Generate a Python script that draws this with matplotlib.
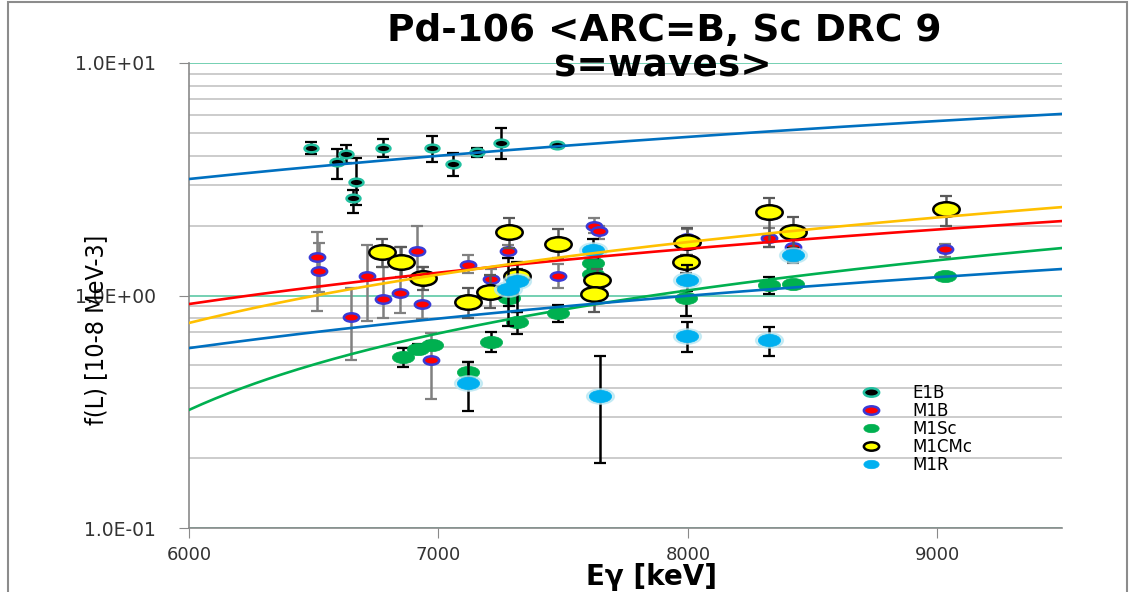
import numpy as np
import matplotlib
matplotlib.use("Agg")
import matplotlib.pyplot as plt
from matplotlib.path import Path
from matplotlib.transforms import Affine2D
from matplotlib.patches import Rectangle
from matplotlib.lines import Line2D
from matplotlib.ticker import FixedLocator, FuncFormatter

# Pd-106 photon strengths: E-gamma in keV, f(L) in 10^-8 MeV^-3
e1b_x = [6489, 6593, 6629, 6669, 6657, 6778, 6974, 7058, 7154, 7250, 7475]
e1b_y = [4.31, 3.75, 4.06, 3.08, 2.62, 4.31, 4.31, 3.68, 4.14, 4.53, 4.44]
e1b_hi = [4.57, 4.26, 4.44, 3.90, 2.84, 4.71, 4.85, 4.10, 4.31, 5.25, 4.53]
e1b_lo = [4.06, 3.17, 3.72, 2.45, 2.26, 3.95, 3.75, 3.27, 3.95, 3.86, 4.36]

m1b_x = [6513, 6521, 6649, 6713, 6778, 6846, 6914, 6934, 6970, 7118,
         7210, 7279, 7479, 7623, 7643, 7996, 8325, 8421, 9030]
m1b_y = [1.46, 1.27, 0.81, 1.21, 0.966, 1.03, 1.55, 0.919, 0.528, 1.35,
         1.18, 1.55, 1.21, 1.99, 1.89, 1.77, 1.77, 1.62, 1.58]
m1b_hi = [1.87, 1.68, 1.08, 1.65, 1.33, 1.61, 1.99, 1.32, 0.69, 1.49,
          1.30, 1.65, 1.36, 2.15, 2.00, 1.93, 1.95, 1.73, 1.67]
m1b_lo = [0.86, 1.04, 0.53, 0.78, 0.80, 0.84, 1.23, 0.79, 0.36, 1.25,
          1.08, 1.45, 1.08, 1.85, 1.75, 1.62, 1.62, 1.38, 1.46]

m1sc_x = [6858, 6918, 6976, 7118, 7210, 7283, 7315, 7479, 7619, 7619,
          7992, 8325, 8421, 9030]
m1sc_y = [0.544, 0.589, 0.612, 0.469, 0.631, 0.975, 0.769, 0.841, 1.38, 1.24,
          0.975, 1.11, 1.12, 1.21]
m1sc_hi = [0.594, 0.62, 0.64, 0.518, 0.70, 1.05, 0.85, 0.91, 1.45, 1.30,
           1.05, 1.20, 1.16, 1.21]
m1sc_lo = [0.492, 0.56, 0.59, 0.43, 0.57, 0.90, 0.68, 0.77, 1.32, 1.18,
           0.82, 1.02, 1.08, 1.21]

m1cmc_x = [6774, 6850, 6938, 7118, 7206, 7283, 7315, 7479, 7635, 7623,
           7996, 7992, 8325, 8421, 9034]
m1cmc_y = [1.54, 1.39, 1.19, 0.937, 1.04, 1.87, 1.21, 1.67, 1.17, 1.01,
           1.70, 1.39, 2.28, 1.87, 2.36]
m1cmc_hi = [1.75, 1.61, 1.32, 1.08, 1.22, 2.16, 1.30, 1.93, 1.30, 1.10,
            1.95, 1.50, 2.63, 2.18, 2.68]
m1cmc_lo = [1.32, 1.20, 1.06, 0.80, 0.88, 1.60, 1.10, 1.45, 1.05, 0.85,
            1.50, 1.25, 1.62, 1.60, 1.99]

m1r_x = [7118, 7279, 7315, 7619, 7647, 7996, 7996, 8325, 8421]
m1r_y = [0.421, 1.07, 1.15, 1.57, 0.370, 1.17, 0.670, 0.644, 1.49]
m1r_hi = [0.52, 1.45, 1.40, 1.75, 0.55, 1.35, 0.77, 0.73, 1.60]
m1r_lo = [0.32, 0.74, 0.85, 1.45, 0.19, 1.05, 0.57, 0.55, 1.40]

# linear trend lines, values at the ends of the energy range
trend_x = [6000, 9500]
trend_e1b = [3.17, 6.04]
trend_m1b = [0.919, 2.09]
trend_m1sc = [0.322, 1.60]
trend_m1cmc = [0.762, 2.40]
trend_m1r = [0.594, 1.30]

# flattened oval marker
oval = Path.unit_circle().transformed(Affine2D().scale(1.0, 0.55))

series = [
    ("E1B", e1b_x, e1b_y, e1b_lo, e1b_hi,
     dict(mfc="black", mec="#22c0a0", ms=10, mew=1.8), "black"),
    ("M1B", m1b_x, m1b_y, m1b_lo, m1b_hi,
     dict(mfc="#ff0000", mec="#3a3ad6", ms=11, mew=1.8), "#808080"),
    ("M1Sc", m1sc_x, m1sc_y, m1sc_lo, m1sc_hi,
     dict(mfc="#00b050", mec="#00b050", ms=16, mew=0.5), "black"),
    ("M1CMc", m1cmc_x, m1cmc_y, m1cmc_lo, m1cmc_hi,
     dict(mfc="#ffff00", mec="black", ms=19, mew=1.8), "#595959"),
    ("M1R", m1r_x, m1r_y, m1r_lo, m1r_hi,
     dict(mfc="#00b0f0", mec="#00b0f0", ms=16, mew=0.5), "black"),
]

trends = [
    (trend_e1b, "#0070c0"),
    (trend_m1b, "#ff0000"),
    (trend_m1sc, "#00b050"),
    (trend_m1cmc, "#ffc000"),
    (trend_m1r, "#0070c0"),
]

fig = plt.figure(figsize=(11.3, 5.92), dpi=100)
ax = fig.add_axes([189 / 1130, 1 - 528 / 592, 873 / 1130, 465 / 592])
ax.set_yscale("log")
ax.set_xlim(6000, 9500)
ax.set_ylim(0.1, 10)

for i, (name, x, y, lo, hi, style, ecol) in enumerate(series):
    x = np.array(x)
    y = np.array(y)
    yerr = [y - np.array(lo), np.array(hi) - y]
    ax.errorbar(x, y, yerr=yerr, fmt="none", ecolor=ecol, elinewidth=1.8,
                capsize=4.5, capthick=1.6, zorder=3 + i)
    if name == "M1R":
        # soft halo round the cyan points
        ax.plot(x, y, ls="none", marker=oval, ms=20, mfc="#b5e6f2",
                mec="#b5e6f2", alpha=0.7, zorder=3 + i)
    ax.plot(x, y, ls="none", marker=oval, zorder=3.5 + i, **style)

xs = np.linspace(trend_x[0], trend_x[1], 200)
for vals, col in trends:
    k, b = np.polyfit(trend_x, vals, 1)
    ax.plot(xs, k * xs + b, color=col, lw=1.9, zorder=10)

# axes styling
for side in ("top", "right"):
    ax.spines[side].set_visible(False)
for side in ("left", "bottom"):
    ax.spines[side].set_color("#8a8a8a")
    ax.spines[side].set_linewidth(1.2)

ax.xaxis.set_major_locator(FixedLocator([6000, 7000, 8000, 9000]))
ax.yaxis.set_major_locator(FixedLocator([0.1, 1, 10]))
ax.yaxis.set_major_formatter(FuncFormatter(lambda v, p: f"{v:.1E}"))
ax.tick_params(axis="y", which="major", direction="out", length=7,
               color="#8a8a8a", pad=17, labelsize=13.5, labelcolor="#333333")
ax.tick_params(axis="y", which="minor", length=0)
ax.tick_params(axis="x", direction="out", length=7, color="#8a8a8a",
               pad=6, labelsize=13, labelcolor="#333333")
ax.yaxis.grid(True, which="minor", color="#c8c8c8", lw=1.3)
ax.yaxis.grid(True, which="major", color="#5cc8a6", lw=1.2)
ax.set_axisbelow(True)

handles = [Line2D([], [], ls="none", marker=oval, **dict(s[5], ms=11))
           for s in series]
ax.legend(handles, [s[0] for s in series], loc="upper left",
          bbox_to_anchor=(859 / 1130, 1 - 384 / 592),
          bbox_transform=fig.transFigure, frameon=False, fontsize=12,
          borderpad=0, borderaxespad=0, handlelength=1.4,
          handletextpad=1.8, labelspacing=0.0)

fig.text(664 / 1130, 1 - 41 / 592, "Pd-106 <ARC=B, Sc DRC 9",
         ha="center", va="baseline", fontsize=27, fontweight="bold")
fig.text(663 / 1130, 1 - 75 / 592, "s=waves>",
         ha="center", va="baseline", fontsize=27, fontweight="bold")
fig.text(652 / 1130, 1 - 577 / 592, "E\u03b3 [keV]", ha="center",
         va="center", fontsize=20, fontweight="bold")
fig.text(96 / 1130, 1 - 330 / 592, "f(L) [10-8 MeV-3]", rotation=90,
         ha="center", va="center", fontsize=18, family="DejaVu Sans",
         fontstretch="condensed")

fig.add_artist(Rectangle((8 / 1130, -0.05), 1119 / 1130, 1.05 - 1.5 / 592,
                         transform=fig.transFigure, fill=False,
                         ec="#8c8c8c", lw=1.5))

fig.savefig("out.png", dpi=100)
